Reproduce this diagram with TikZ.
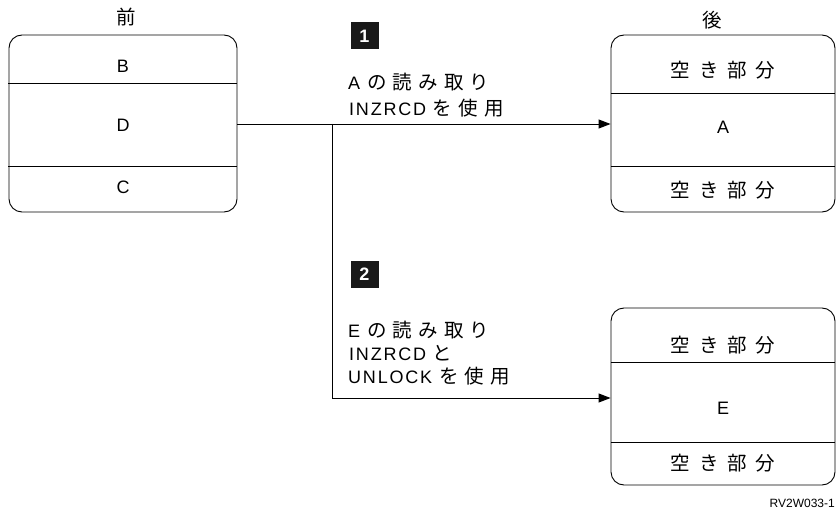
\documentclass[tikz,border=0pt]{standalone}
\usepackage{fontspec}
\setmainfont{Liberation Sans}[LetterSpace=10]
\newfontfamily\idfont{Liberation Sans}
\newfontfamily\jpfam{Noto Sans CJK JP}[LetterSpace=32]
\newfontfamily\jpwide{Noto Sans CJK JP}[LetterSpace=45]
\newcommand\jpx{\fontsize{19.5}{21}\selectfont\jpfam}
\newcommand\jpw{\fontsize{19.5}{21}\selectfont\jpwide}
\usetikzlibrary{arrows.meta}
\tikzset{
  membox/.style={draw, line width=0.9pt, rounded corners=13pt, minimum width=#1, minimum height=177pt, inner sep=0pt},
  lbl/.style={font=\fontsize{18}{20}\selectfont, inner sep=0pt},
  numbox/.style={fill=black!90, text=white, minimum width=28pt, minimum height=27pt, inner sep=0pt, font=\idfont\fontsize{18}{19}\selectfont\bfseries},
  conn/.style={line width=0.9pt},
  arr/.style={conn, -{Triangle[length=12pt,width=9pt]}},
  divl/.style={line width=0.9pt}
}
\begin{document}
\begin{tikzpicture}[x=1pt,y=-1pt]
\useasboundingbox (0,0) rectangle (836,516);
% left box
\node[membox=228pt] (before) at (123,123.5) {};
\draw[divl] (8,83) -- (before.east |- 0,83);
\draw[divl] (8,166) -- (before.east |- 0,166);
\node[lbl] (b) at (123,66) {B};
\node[lbl] (d) at (123,125) {D};
\node[lbl] (c) at (123,187) {C};
\node[lbl, font=\jpx] (mae) at (126,17) {前};
% right top box
\node[membox=224pt] (after1) at (723,123.5) {};
\draw[divl] (after1.west |- 0,93) -- (after1.east |- 0,93);
\draw[divl] (after1.west |- 0,166) -- (after1.east |- 0,166);
\node[lbl, font=\jpw] (f1) at (723,70) {空き部分};
\node[lbl] (a) at (723,127) {A};
\node[lbl, font=\jpw] (f2) at (723,190) {空き部分};
\node[lbl, font=\jpx] (ato) at (712,20) {後};
% right bottom box
\node[membox=224pt] (after2) at (723,396.5) {};
\draw[divl] (after2.west |- 0,362) -- (after2.east |- 0,362);
\draw[divl] (after2.west |- 0,442) -- (after2.east |- 0,442);
\node[lbl, font=\jpw] (f3) at (723,345) {空き部分};
\node[lbl] (e) at (723,408) {E};
\node[lbl, font=\jpw] (f4) at (723,463) {空き部分};
% connectors
\coordinate (split) at (332,124);
\coordinate (bend) at (332,398);
\draw[arr] (before.east |- split) -- (after1.west |- split);
\draw[conn] (split) -- (bend);
\draw[arr] (bend) -- (after2.west |- bend);
% step labels
\node[numbox] (n1) at (364.5,36) {1};
\node[numbox] (n2) at (364.5,274) {2};
\node[lbl, anchor=west] (t1a) at (348,82) {A {\jpx の読み取り}};
\node[lbl, anchor=west] (t1b) at (349,108) {INZRCD {\jpx を使用}};
\node[lbl, anchor=west] (t2a) at (348,330) {E {\jpx の読み取り}};
\node[lbl, anchor=west] (t2b) at (349,353) {INZRCD {\jpx と}};
\node[lbl, anchor=west] (t2c) at (348,376) {UNLOCK {\jpx を使用}};
\node[font=\idfont\fontsize{12}{14}\selectfont, anchor=east, inner sep=0pt] (id) at (835,503) {RV2W033-1};
\end{tikzpicture}
\end{document}
